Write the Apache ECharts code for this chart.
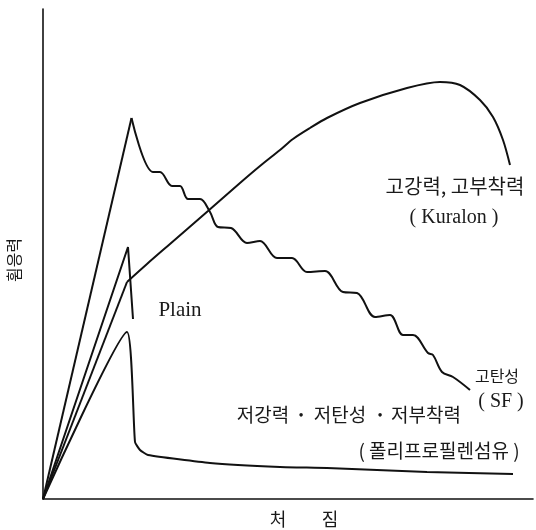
<!DOCTYPE html>
<html>
<head>
<meta charset="utf-8">
<script src="https://cdn.jsdelivr.net/npm/echarts@6/dist/echarts.min.js"></script>
<style>
html,body{margin:0;padding:0;background:#fff;}
#c{width:536px;height:530px;}
</style>
</head>
<body>
<div id="c"></div>
<script>
// Deflection (x) vs flexural stress (y), arbitrary units
const sfRise = [[0,0],[17.7,76.2]];
const sfPost = [[17.7,76.2],[22,65.4],[23.4,65.4],[25.8,62.6],[27.4,62.6],[29,60],[31.4,60],[33.4,57.4],[35,54.4],[37.6,54.2],[40.8,51.2],[43.4,51.6],[46.8,48.2],[49.8,48.2],[52.8,45.4],[56.4,45.6],[60,41.4],[62.8,41.2],[66.4,36.4],[69.4,36.8],[72,32.8],[74,32.8],[77,29.2],[78,28.8],[79.8,25.4],[82,24.4],[85.4,21.8]];
const kurRise = [[0,0],[16.8,43.4]];
const kurPost = [[16.8,43.4],[20.8,47],[25.4,51],[33,57.6],[39.4,63.2],[43.4,66.6],[47.4,69.8],[50,72],[53.4,74.2],[56.8,76.2],[63.4,79.2],[72.8,82.2],[79.4,83.4],[83.4,82.8],[87.4,79.8],[90,76.4],[92,71.8],[93.4,66.8]];
const plain = [[0,0],[17,50.4],[18,36]];
const pp = [[0,0],[16.8,33.4],[18.4,11.4],[19.4,9.8],[21,8.8],[33.4,7.2],[47.4,6.4],[56.8,6.2],[76.8,5.4],[94,5]];

const xName = ['처','짐'];
const yName = '휨응력';
const labKuralon = ['고강력, 고부착력','( Kuralon )'];
const labSF = ['고탄성','( SF )'];
const labPlain = 'Plain';
const labPP = ['저강력','·','저탄성','·','저부착력','( 폴리프로필렌섬유 )'];

const KR = "'Noto Sans CJK KR', sans-serif";
const SER = "'Liberation Serif', 'DejaVu Serif', serif";
const ink = '#111';

function line(name, data, smooth) {
  return {
    name, type: 'line', data, smooth: smooth || false, symbol: 'none',
    lineStyle: { color: ink, width: 2 }, silent: true
  };
}
function txt(text, x, y, font, extra) {
  return Object.assign({
    type: 'text', x, y, silent: true,
    style: { text, font, fill: '#1a1a1a', align: 'center', verticalAlign: 'middle',
             textAlign: 'center', textVerticalAlign: 'middle' }
  }, extra || {});
}

const chart = echarts.init(document.getElementById('c'), null, { renderer: 'canvas' });
chart.setOption({
  animation: false,
  backgroundColor: '#fff',
  grid: { left: 43, top: 9, width: 490, height: 490 },
  xAxis: { type: 'value', min: 0, max: 98, axisLine: { show: true, lineStyle: { color: ink, width: 1.6 } },
           axisTick: { show: false }, axisLabel: { show: false }, splitLine: { show: false } },
  yAxis: { type: 'value', min: 0, max: 98, axisLine: { show: true, lineStyle: { color: ink, width: 1.6 } },
           axisTick: { show: false }, axisLabel: { show: false }, splitLine: { show: false } },
  series: [
    line('SF rise', sfRise),
    line('SF', sfPost, 0.35),
    line('Kuralon rise', kurRise),
    line('Kuralon', kurPost, 0.3),
    line('Plain', plain),
    line('PP', pp, 0.15)
  ],
  graphic: [
    txt(labKuralon[0], 455, 186, '20px ' + KR),
    txt(labKuralon[1], 454, 218, '20px ' + SER),
    txt(labPlain, 180, 310, '21px ' + SER),
    txt(labSF[0], 497, 376, '16px ' + KR),
    txt(labSF[1], 501, 402, '20px ' + SER),
    txt(labPP[0], 263, 415, '19px ' + KR),
    txt(labPP[1], 301, 415, 'bold 19px ' + KR),
    txt(labPP[2], 340, 415, '19px ' + KR),
    txt(labPP[3], 380, 415, 'bold 19px ' + KR),
    txt(labPP[4], 426, 415, '19px ' + KR),
    txt(labPP[5], 439, 451, '19px ' + KR),
    txt(xName[0], 278, 519, '18px ' + KR),
    txt(xName[1], 330, 519, '18px ' + KR),
    txt(yName, 14, 260, '16px ' + KR, { rotation: Math.PI / 2 })
  ]
});
</script>
</body>
</html>
